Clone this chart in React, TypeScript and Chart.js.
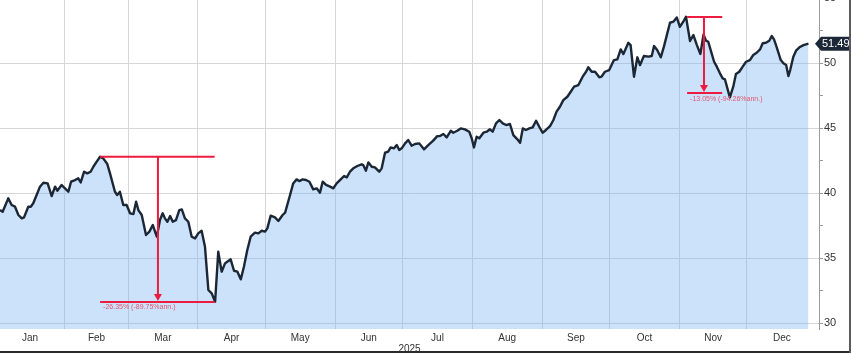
import React, { useEffect, useRef } from 'react';
import { Chart, registerables } from 'chart.js';

Chart.register(...registerables);

// Day of year (Jan 1 = 0) for each plotted close
const tradeDays = [
  2.1, 3.3, 5.8, 7.3, 8.8, 10.3, 11.8, 12.8, 14.7, 15.8, 16.9, 18.4, 19.9, 21.4, 23.3, 25.1, 26.6, 27.6, 29.5,
  31.0, 32.5, 33.7, 35.5, 36.9, 38.0, 39.5, 40.9, 42.4, 43.6, 45.1, 46.6, 48.0, 49.8, 51.0, 53.2, 54.2, 55.4, 56.9, 58.4,
  59.9, 61.4, 62.6, 63.6, 65.1, 67.0, 68.5, 70.0, 71.0, 71.8, 73.2, 74.4, 75.4, 76.5, 77.7, 78.9, 80.3, 81.8, 82.9, 84.3, 85.8, 87.3, 88.8,
  90.2, 91.7, 93.2, 94.7, 96.2, 97.7, 99.1, 100.6, 102.1, 103.1, 104.6, 106.1, 107.6, 109.1, 110.5, 112.0, 113.5, 115.4, 116.9, 118.4, 119.9,
  120.9, 122.4, 124.3, 125.8, 127.7, 128.8, 131.0, 132.4, 133.9, 135.1, 136.6, 138.1, 139.6, 141.3, 142.8, 144.3, 145.5, 147.0, 148.8, 150.2,
  151.7, 153.5, 155.0, 156.2, 157.6, 159.1, 160.9, 162.8, 163.5, 164.7, 165.8, 167.3, 168.7, 170.6, 171.7, 173.2, 174.6, 175.7, 177.2, 178.4, 179.5,
  180.6, 182.1, 183.5, 185.0, 186.5, 188.4, 190.5, 192.4, 194.6, 196.4, 197.6, 199.1, 200.6, 202.4, 203.5, 205.3, 206.8, 208.7, 210.6,
  211.7, 212.7, 213.9, 215.1, 216.9, 218.4, 219.8, 221.0, 222.5, 224.0, 225.5, 227.0, 228.7, 230.2, 232.0, 233.2, 234.4, 235.8, 237.3, 238.8, 240.3, 241.7,
  243.2, 244.7, 246.5, 248.0, 249.4, 250.9, 252.4, 254.2, 255.7, 257.2, 259.1, 261.0, 262.5, 263.5, 265.0, 266.5, 268.4, 269.4, 270.9, 272.8,
  274.9, 276.4, 277.9, 279.1, 281.3, 282.3, 283.8, 285.3, 286.5, 288.2, 290.2, 291.7, 292.7, 294.1, 295.7, 297.1, 298.6, 299.8, 301.3, 302.8,
  304.2, 305.7, 306.9, 308.7, 310.2, 311.7, 313.3, 314.7, 315.8, 316.8, 318.3, 319.4, 320.6, 322.0, 323.2, 324.2, 325.3, 326.4, 327.9, 329.1, 330.6, 332.1, 333.6,
  335.3, 336.8, 338.3, 339.8, 341.0, 342.4, 343.9, 345.0, 346.0, 346.9, 348.0, 349.0, 350.2, 351.4, 352.4, 353.2, 354.6, 355.8, 357.3, 359.1, 360.6, 361.3,
];

const closes = [
  38.69, 38.56, 39.59, 39.08, 38.95, 38.31, 38.05, 38.13, 38.95, 38.95, 39.21, 39.85, 40.49, 40.79, 40.74, 39.77, 40.49, 40.18, 40.62,
  40.36, 40.10, 40.87, 41.00, 41.13, 40.82, 41.64, 41.51, 41.64, 42.02, 42.41, 42.79, 42.67, 42.23, 41.51, 40.10, 39.85, 40.10, 39.08, 39.08,
  38.44, 38.38, 39.33, 38.69, 38.31, 36.77, 37.03, 37.54, 37.03, 36.64, 37.92, 38.44, 38.05, 37.79, 38.23, 37.79, 37.92, 38.69, 38.74, 38.05, 37.79, 36.64, 36.51,
  36.90, 37.10, 35.87, 32.54, 32.28, 31.64, 35.49, 33.95, 34.59, 34.72, 34.90, 34.02, 33.95, 33.36, 34.33, 35.62, 36.64, 36.95, 36.90, 37.10, 37.03,
  37.28, 38.26, 38.13, 37.85, 38.31, 38.49, 39.85, 40.74, 41.05, 40.92, 41.05, 41.00, 40.87, 40.28, 40.36, 40.03, 40.87, 40.62, 40.49, 40.36,
  40.74, 41.05, 41.31, 41.21, 41.64, 41.90, 42.08, 42.21, 42.15, 41.72, 42.36, 42.02, 41.97, 41.64, 41.90, 43.10, 43.18, 43.51, 43.44, 43.69, 43.31,
  43.44, 43.82, 44.08, 43.64, 43.77, 43.82, 43.36, 43.69, 44.03, 44.38, 44.38, 44.54, 44.28, 44.79, 44.64, 44.79, 44.97, 44.90, 44.72,
  44.21, 43.51, 44.33, 44.21, 44.64, 44.72, 44.90, 44.72, 45.36, 45.62, 45.36, 45.23, 45.31, 44.46, 44.13, 43.87, 44.97, 44.85, 44.97, 45.05, 45.56, 45.10,
  44.64, 44.85, 45.15, 45.62, 46.26, 46.64, 47.15, 47.41, 47.79, 48.18, 48.31, 48.95, 49.33, 49.67, 49.33, 49.33, 48.90, 48.95, 49.33, 49.46,
  50.23, 50.28, 51.05, 50.69, 51.56, 51.38, 48.95, 50.44, 49.85, 50.54, 50.49, 50.54, 51.31, 51.00, 50.44, 51.26, 52.28, 53.10, 53.18, 53.51,
  52.79, 53.18, 53.56, 51.70, 52.15, 51.40, 50.70, 52.20, 51.72, 51.64, 50.75, 50.10, 49.72, 49.21, 48.82, 48.75, 48.05, 47.36, 48.18, 49.15, 49.33, 49.72, 50.10,
  50.23, 50.62, 50.79, 51.05, 51.52, 51.56, 51.72, 52.08, 51.82, 51.38, 50.79, 50.23, 49.98, 49.85, 49.00, 49.46, 50.48, 50.95, 51.21, 51.38, 51.46, 51.49,
];

const monthNames = ['Jan', 'Feb', 'Mar', 'Apr', 'May', 'Jun', 'Jul', 'Aug', 'Sep', 'Oct', 'Nov', 'Dec'];
const monthMidDays = [15.5, 45, 74.5, 105, 135.5, 166, 196.5, 227.5, 258, 288.5, 319, 349.5];
const monthStartDays = [31, 59, 90, 120, 151, 181, 212, 243, 273, 304, 334];
const yearLabel = '2025';
const yTickValues = [30, 32.5, 35, 37.5, 40, 42.5, 45, 47.5, 50, 52.5, 55];

// Drawdown annotations
const ddStartDay = [46.6, 307.4];
const ddEndDay = [97.5, 323.0];
const ddArrowDay = [72.3, 314.9];
const ddHigh = [42.8, 53.54];
const ddLow = [31.62, 47.69];
const ddText = ['-26.35% (-89.75%ann.)', '-13.05% (-94.26%ann.)'];

const X_MIN = 2.13;
const X_MAX = 366;
const Y_MIN = 29.54;
const Y_MAX = 54.85;

const RED = '#ec1c3f';

const annotationPlugin = {
  id: 'drawdowns',
  afterDatasetsDraw(chart: any) {
    const { ctx, scales } = chart;
    const xs = scales.x;
    const ys = scales.y;
    ctx.save();
    for (let i = 0; i < ddStartDay.length; i++) {
      const x1 = xs.getPixelForValue(ddStartDay[i]);
      const x2 = xs.getPixelForValue(ddEndDay[i]);
      const xa = xs.getPixelForValue(ddArrowDay[i]);
      const yh = ys.getPixelForValue(ddHigh[i]);
      const yl = ys.getPixelForValue(ddLow[i]);
      ctx.strokeStyle = RED;
      ctx.lineWidth = 2;
      ctx.beginPath();
      ctx.moveTo(x1, yh);
      ctx.lineTo(x2, yh);
      ctx.moveTo(x1, yl);
      ctx.lineTo(x2, yl);
      ctx.moveTo(xa, yh);
      ctx.lineTo(xa, yl - 5);
      ctx.stroke();
      ctx.fillStyle = RED;
      ctx.beginPath();
      ctx.moveTo(xa - 4, yl - 8);
      ctx.lineTo(xa + 4, yl - 8);
      ctx.lineTo(xa, yl - 1);
      ctx.closePath();
      ctx.fill();
      ctx.fillStyle = '#e2566e';
      ctx.font = '7px "Liberation Sans", Arial, sans-serif';
      ctx.textAlign = 'left';
      ctx.textBaseline = 'top';
      ctx.fillText(ddText[i], x1 + 3, yl + 2);
    }
    ctx.restore();
  },
  afterDraw(chart: any) {
    const { ctx, scales } = chart;
    const ys = scales.y;
    const last = closes[closes.length - 1];
    const y = ys.getPixelForValue(last);
    ctx.save();
    ctx.fillStyle = '#1c2838';
    ctx.beginPath();
    ctx.moveTo(815, y);
    ctx.lineTo(821, y - 7);
    ctx.lineTo(849, y - 7);
    ctx.lineTo(849, y + 7);
    ctx.lineTo(821, y + 7);
    ctx.closePath();
    ctx.fill();
    ctx.fillStyle = '#ffffff';
    ctx.font = '11px "Liberation Sans", Arial, sans-serif';
    ctx.textAlign = 'left';
    ctx.textBaseline = 'middle';
    ctx.fillText(last.toFixed(2), 822, y + 0.5);
    // frame
    ctx.fillStyle = '#2a2a2a';
    ctx.fillRect(0, 351, 851, 2);
    ctx.fillStyle = '#5a5a5a';
    ctx.fillRect(849, 0, 2, 353);
    ctx.restore();
  },
};

export default function App() {
  const canvasRef = useRef<HTMLCanvasElement | null>(null);

  useEffect(() => {
    const canvas = canvasRef.current;
    if (!canvas) return;
    const data = tradeDays.map((d, i) => ({ x: d, y: closes[i] }));
    const chart = new Chart(canvas, {
      type: 'line',
      data: {
        datasets: [
          {
            data,
            borderColor: '#1c2736',
            borderWidth: 2.4,
            pointRadius: 0,
            tension: 0,
            fill: 'start',
            backgroundColor: 'rgba(120,180,245,0.38)',
            borderJoinStyle: 'round',
            xAxisID: 'x',
            yAxisID: 'y',
          },
        ],
      },
      options: {
        responsive: false,
        animation: false,
        devicePixelRatio: 1,
        layout: { padding: 0 },
        plugins: { legend: { display: false }, tooltip: { enabled: false } },
        scales: {
          x: {
            type: 'linear',
            position: 'bottom',
            min: X_MIN,
            max: X_MAX,
            afterBuildTicks: (s: any) => {
              s.ticks = monthMidDays.map((v) => ({ value: v }));
            },
            afterFit: (s: any) => {
              s.height = 26;
              s.paddingLeft = 0;
              s.paddingRight = 0;
            },
            grid: { display: false, drawTicks: false },
            border: { display: false },
            ticks: {
              autoSkip: false,
              maxRotation: 0,
              padding: 3,
              color: '#333',
              font: { family: '"Liberation Sans", Arial, sans-serif', size: 10 },
              callback: (_v: any, i: number) => monthNames[i],
            },
            title: {
              display: true,
              text: yearLabel,
              color: '#333',
              font: { family: '"Liberation Sans", Arial, sans-serif', size: 10 },
              padding: 0,
            },
          },
          xg: {
            type: 'linear',
            position: 'bottom',
            min: X_MIN,
            max: X_MAX,
            afterBuildTicks: (s: any) => {
              s.ticks = monthStartDays.map((v) => ({ value: v }));
            },
            afterFit: (s: any) => {
              s.height = 0;
              s.paddingLeft = 0;
              s.paddingRight = 0;
            },
            grid: { color: '#d6d6d6', drawTicks: false, lineWidth: 1 },
            border: { display: false },
            ticks: { display: false },
          },
          y: {
            type: 'linear',
            position: 'right',
            min: Y_MIN,
            max: Y_MAX,
            afterBuildTicks: (s: any) => {
              s.ticks = yTickValues.map((v) => ({ value: v }));
            },
            afterFit: (s: any) => {
              s.width = 32;
              s.paddingTop = 0;
              s.paddingBottom = 0;
            },
            grid: {
              color: (c: any) =>
                c.tick && c.tick.value % 5 === 0 && c.tick.value < 55 ? '#d6d6d6' : 'rgba(0,0,0,0)',
              tickColor: '#9a9a9a',
              tickLength: 4,
              drawTicks: true,
            },
            border: { display: true, color: '#9a9a9a', width: 1 },
            ticks: {
              autoSkip: false,
              padding: 1,
              color: '#333',
              font: { family: '"Liberation Sans", Arial, sans-serif', size: 11 },
              callback: (v: any) => (Number(v) % 5 === 0 ? String(v) : ''),
            },
          },
        },
      },
      plugins: [annotationPlugin],
    } as any);
    return () => chart.destroy();
  }, []);

  return (
    <div style={{ position: 'fixed', left: 0, top: 0, width: 851, height: 355, background: '#fff' }}>
      <canvas ref={canvasRef} width={851} height={355} style={{ display: 'block' }} />
    </div>
  );
}
